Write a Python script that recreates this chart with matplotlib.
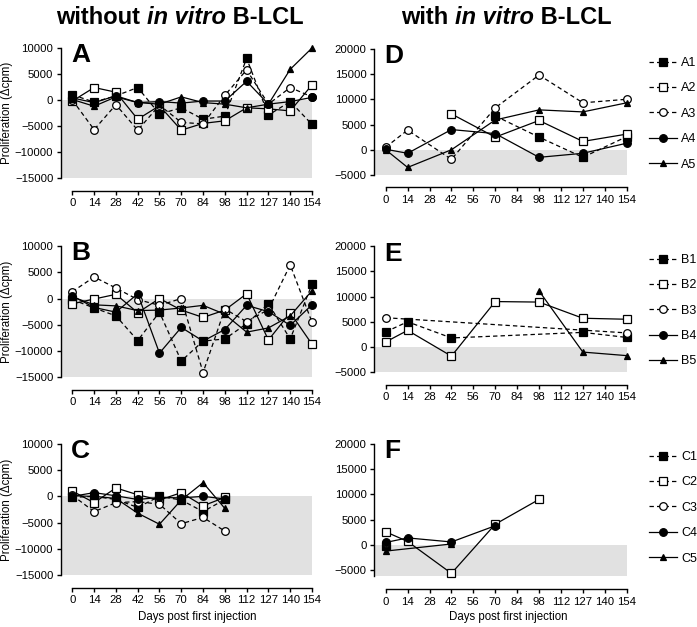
import matplotlib
matplotlib.use('Agg')
import matplotlib.pyplot as plt
from matplotlib.lines import Line2D

plt.rcParams['font.family'] = ['Liberation Sans', 'DejaVu Sans']

days = ['0', '14', '28', '42', '56', '70', '84', '98', '112', '127', '140', '154']

# without in vitro B-LCL
a1_wo = [1000, -400, 800, 2400, -2700, -1500, -3700, -3100, 8000, -2900, -300, -4700]
a2_wo = [-200, 2400, 1500, -3700, -1100, -5800, -4500, -4000, -1500, -1700, -2100, 2900]
a3_wo = [0, -5700, -900, -5800, -1000, -4300, -4600, 900, 5800, -800, 2400, 600]
a4_wo = [400, -500, 800, -500, -300, -600, -200, -200, 3600, -800, -300, 500]
a5_wo = [100, -1200, 600, -500, -800, 600, -500, -800, -1500, -800, 5900, 10000]

b1_wo = [-200, -1800, -3300, -8000, -2600, -11900, -8100, -7700, -4800, -1000, -7700, 2700]
b2_wo = [-1000, -100, 800, -2700, 0, -2200, -3600, -2200, 900, -7900, -2700, -8700]
b3_wo = [1300, 4100, 2000, -200, -1300, 0, -14100, -2000, -4400, -2100, 6400, -4500]
b4_wo = [500, -1700, -2600, 900, -10400, -5500, -8100, -5900, -1300, -2500, -5100, -1200]
b5_wo = [300, -1200, -1400, -2300, -2200, -1800, -1300, -3000, -6400, -5600, -3300, 1500]

c1_wo = [-200, 0, -600, -2100, 0, -700, -2900, -600, None, None, None, None]
c2_wo = [1000, -1200, 1600, 300, -700, 700, -1800, -200, None, None, None, None]
c3_wo = [200, -2900, -1200, -1000, -1500, -5200, -4000, -6600, None, None, None, None]
c4_wo = [0, 700, 100, -600, -200, -300, 0, -500, None, None, None, None]
c5_wo = [100, 0, -400, -3200, -5300, -700, 2600, -2300, None, None, None, None]

# with in vitro B-LCL
a1_w = [None, None, None, None, None, 6700, None, 2500, None, -1500, None, 2600]
a2_w = [None, None, None, 7100, None, 2500, None, 5800, None, 1650, None, 3100]
a3_w = [500, 3900, None, -1900, None, 8300, None, 14800, None, 9300, None, 10000]
a4_w = [100, -700, None, 4000, None, 3200, None, -1500, None, -700, None, 1300]
a5_w = [0, -3500, None, 0, None, 5900, None, 7900, None, 7500, None, 9300]

b1_w = [3000, 5000, None, 1800, None, None, None, None, None, 2900, None, 1900]
b2_w = [1000, 3300, None, -1800, None, 9000, None, 8900, None, 5700, None, 5500]
b3_w = [5800, None, None, None, None, None, None, None, None, None, None, 2800]
b4_w = [None] * 12
b5_w = [None, None, None, None, None, None, None, 11100, None, -1000, None, -1700]

c1_w = [-100, None, None, None, None, None, None, None, None, None, None, None]
c2_w = [2600, 700, None, -5600, None, 4100, None, 9000, None, None, None, None]
c3_w = [300, None, None, None, None, None, None, None, None, None, None, None]
c4_w = [500, 1400, None, 600, None, 3800, None, None, None, None, None, None]
c5_w = [-1200, None, None, 200, None, None, None, None, None, None, None, None]

# marker, face, plot line style
styles = [('s', 'black', '--'), ('s', 'white', '-'), ('o', 'white', '--'),
          ('o', 'black', '-'), ('^', 'black', '-')]
legend_ls = ['--', '--', '--', '-', '-']
dash = (0, (3.5, 2.5))

W, H = 697, 627
fig = plt.figure(figsize=(W / 100, H / 100), dpi=100)


def px_axes(left, right, top, bottom):
    return fig.add_axes([left / W, 1 - bottom / H, (right - left) / W, (bottom - top) / H])


def draw_panel(ax, series, ymin, ymax, yticks, letter, names=None, ylabel=False):
    ax.set_xlim(-0.52, 11.0)
    ax.set_ylim(ymin, ymax)
    ax.fill_between([-0.52, 11.0], ymin, 0, color='#e1e1e1', lw=0, zorder=0)
    for vals, (m, fc, ls) in zip(series, styles):
        xs = [i for i, v in enumerate(vals) if v is not None]
        ys = [v for v in vals if v is not None]
        if not xs:
            continue
        ax.plot(xs, ys, color='black', lw=0.9, linestyle=dash if ls == '--' else '-',
                marker=m, markerfacecolor=fc, markeredgecolor='black',
                markersize=5.5 if m != '^' else 5, markeredgewidth=0.9, clip_on=False, zorder=3)
    for s in ['top', 'right']:
        ax.spines[s].set_visible(False)
    ax.spines['left'].set_bounds(ymin, ymax)
    ax.spines['bottom'].set_position(('outward', 9))
    ax.spines['bottom'].set_bounds(0, 11)
    ax.spines['left'].set_linewidth(1.0)
    ax.spines['bottom'].set_linewidth(1.0)
    ax.set_xticks(range(12))
    ax.set_xticklabels(days)
    ax.set_yticks(yticks)
    ax.tick_params(length=3, width=1.0, labelsize=8.2, pad=2.5)
    ax.text(0.04, 1.035, letter, transform=ax.transAxes, fontsize=19,
            fontweight='bold', va='top', ha='left')
    if ylabel:
        ax.set_ylabel('Proliferation (\u0394cpm)', fontsize=8.3)
        ax.yaxis.set_label_coords(-0.19, 0.5)
    if names:
        handles = []
        for (m, fc, _), ls, n in zip(styles, legend_ls, names):
            handles.append(Line2D([], [], color='black', lw=0.9,
                                  linestyle=dash if ls == '--' else '-', marker=m,
                                  markerfacecolor=fc, markeredgecolor='black',
                                  markersize=5.5 if m != '^' else 5, markeredgewidth=0.9))
        ax.legend(handles, names, loc='upper left', frameon=False, fontsize=9,
                  bbox_to_anchor=(649 / W, 1 - axtop[ax] / H),
                  bbox_transform=fig.transFigure, borderaxespad=0, borderpad=0,
                  handlelength=2.2, handletextpad=0.35, labelspacing=1.07)


axtop = {}
axA = px_axes(61, 312, 48, 178)
axB = px_axes(61, 312, 246, 377.3)
axC = px_axes(61, 312, 443.7, 575.3)
axD = px_axes(374.3, 626.7, 48.8, 175)
axE = px_axes(374.3, 626.7, 246, 372.3)
axF = px_axes(374.3, 626.7, 443.7, 576.4)
for a, t in [(axD, 57), (axE, 254), (axF, 451)]:
    axtop[a] = t

ticks_l = [-15000, -10000, -5000, 0, 5000, 10000]
ticks_r = [-5000, 0, 5000, 10000, 15000, 20000]

draw_panel(axA, [a1_wo, a2_wo, a3_wo, a4_wo, a5_wo], -15000, 10000, ticks_l, 'A', ylabel=True)
draw_panel(axB, [b1_wo, b2_wo, b3_wo, b4_wo, b5_wo], -15000, 10000, ticks_l, 'B', ylabel=True)
draw_panel(axC, [c1_wo, c2_wo, c3_wo, c4_wo, c5_wo], -15000, 10000, ticks_l, 'C', ylabel=True)
draw_panel(axD, [a1_w, a2_w, a3_w, a4_w, a5_w], -5000, 20000, ticks_r, 'D',
           names=['A1', 'A2', 'A3', 'A4', 'A5'])
draw_panel(axE, [b1_w, b2_w, b3_w, b4_w, b5_w], -5000, 20000, ticks_r, 'E',
           names=['B1', 'B2', 'B3', 'B4', 'B5'])
draw_panel(axF, [c1_w, c2_w, c3_w, c4_w, c5_w], -6200, 20000, ticks_r, 'F',
           names=['C1', 'C2', 'C3', 'C4', 'C5'])

fig.text(197 / W, 1 - 617 / H, 'Days post first injection', ha='center', va='center', fontsize=8.3)
fig.text(508 / W, 1 - 617 / H, 'Days post first injection', ha='center', va='center', fontsize=8.3)


def title(cx, parts, y):
    renderer = fig.canvas.get_renderer()
    texts = []
    for s, style in parts:
        t = fig.text(0, y, s, fontsize=17, fontweight='bold', fontstyle=style,
                     va='center', ha='left')
        texts.append(t)
    widths = [t.get_window_extent(renderer).width for t in texts]
    x = cx - sum(widths) / 2
    for t, w in zip(texts, widths):
        t.set_x(x / W)
        x += w


title(180, [('without\u00a0', 'normal'), ('in vitro', 'italic'), ('\u00a0B-LCL', 'normal')], 1 - 18 / H)
title(506, [('with\u00a0', 'normal'), ('in vitro', 'italic'), ('\u00a0B-LCL', 'normal')], 1 - 18 / H)

fig.savefig('out.png', dpi=100)
